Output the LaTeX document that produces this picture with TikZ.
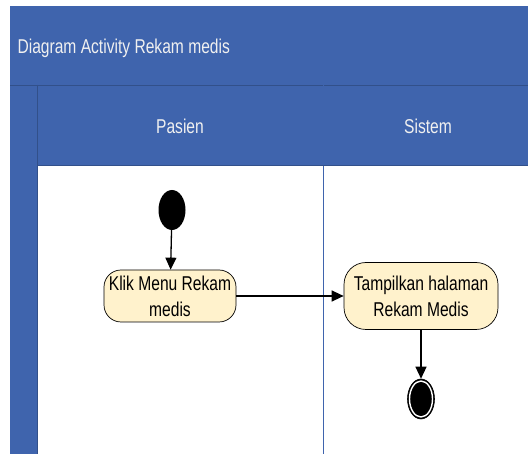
\documentclass[tikz,border=0pt]{standalone}
\usepackage{fontspec}
\setmainfont{Liberation Sans}[FakeStretch=0.78]
\usetikzlibrary{arrows.meta,shapes.geometric}
\definecolor{laneblue}{RGB}{63,100,173}
\definecolor{actfill}{RGB}{255,242,204}
\begin{document}
\begin{tikzpicture}[x=1pt,y=-1pt,
  hdrtext/.style={text=white!94!black,font=\fontsize{20}{22}\selectfont},
  action/.style={draw=black,fill=actfill,line width=0.7pt,
    align=center,font=\fontsize{20}{26}\selectfont,inner sep=0pt},
  flow/.style={-{Triangle[length=12pt,width=11pt]},line width=1.3pt},
  startnode/.style={ellipse,fill=black,minimum width=27pt,minimum height=40pt,inner sep=0pt}]
\useasboundingbox (0,0) rectangle (528,454);
% swimlane frame
\fill[laneblue] (10,6) rectangle (528,454);
\fill[white] (37,165) rectangle (528,454);
\draw[laneblue!80!black,line width=0.6pt] (10,85) -- (528,85);
\draw[laneblue!80!black,line width=0.6pt] (37,85) -- (37,454);
\draw[laneblue,line width=1pt] (323,85) -- (323,454);
\draw[laneblue!80!black,line width=0.6pt] (37,165) -- (528,165);
% headings
\node[hdrtext,anchor=west] (title) at (14,48) {Diagram Activity Rekam medis};
\node[hdrtext] (pasien) at (180,126) {Pasien};
\node[hdrtext] (sistem) at (428,126) {Sistem};
% activity nodes
\node[startnode] (start) at (172,210) {};
\node[action,rounded corners=17pt,minimum width=132pt,minimum height=52pt] (klik) at (170,296) {Klik Menu Rekam\\medis};
\node[action,rounded corners=22pt,minimum width=154pt,minimum height=67pt] (tampil) at (421,296) {Tampilkan halaman\\Rekam Medis};
\node[ellipse,fill=black,draw=black,line width=0.6pt,minimum width=27pt,minimum height=40pt,inner sep=0pt] (endo) at (421,399) {};
\node[ellipse,fill=black,draw=white,line width=1.4pt,minimum width=23pt,minimum height=36pt,inner sep=0pt] (endi) at (421,399) {};
% connectors
\draw[flow] (start) -- (klik);
\draw[flow] (klik) -- (tampil);
\draw[flow] (tampil) -- (endo);
\end{tikzpicture}
\end{document}
